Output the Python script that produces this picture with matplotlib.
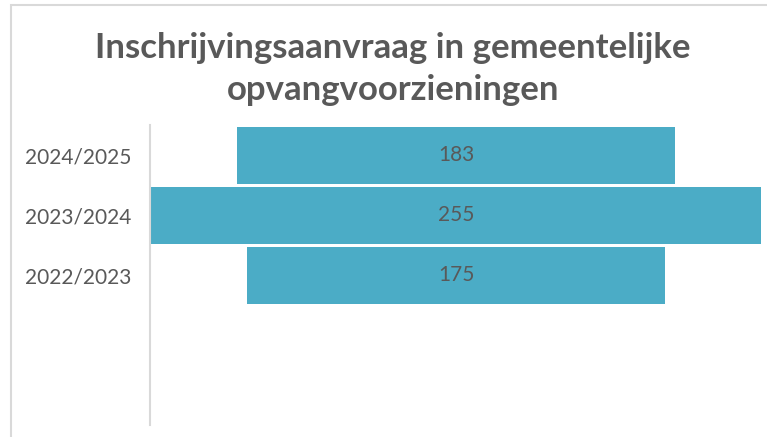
import matplotlib
matplotlib.use("Agg")
import matplotlib.pyplot as plt
from matplotlib.patches import Rectangle

plt.rcParams['font.family'] = ['Lato', 'DejaVu Sans']

# ==== Data ====
years = ["2024/2025", "2023/2024", "2022/2023"]
requests = [183, 255, 175]

bar_color = "#4BACC6"
text_color = "#595959"
line_color = "#D9D9D9"

W, H = 767, 437
fig = plt.figure(figsize=(W / 100, H / 100), dpi=100)

# outer chart frame (left and top edges visible)
fig.patches.append(Rectangle((11 / W, -0.1), 2.0, 1 - 5 / H + 0.1, transform=fig.transFigure,
                             fill=False, edgecolor=line_color, linewidth=1.5))

# ==== Title ====
fig.text(393 / W, 1 - 48 / H, "Inschrijvingsaanvraag in gemeentelijke", ha='center', va='center',
         fontsize=25, fontweight='bold', color=text_color)
fig.text(393 / W, 1 - 90 / H, "opvangvoorzieningen", ha='center', va='center',
         fontsize=25, fontweight='bold', color=text_color)

# ==== Funnel bars ====
ax = fig.add_axes([150 / W, 1 - 425 / H, 617 / W, 300 / H])
pos = list(range(len(years)))
lefts = [-v / 2 for v in requests]
ax.barh(pos, requests, left=lefts, height=0.95, color=bar_color)
for p, v in zip(pos, requests):
    ax.text(0, p, str(v), ha='center', va='center', fontsize=15, color=text_color)

ax.set_xlim(-128, 130)
ax.set_ylim(4.5, -0.5)
ax.set_yticks(pos)
ax.set_yticklabels(years, fontsize=15, color=text_color)
ax.tick_params(axis='y', length=0, pad=13.5)
ax.set_xticks([])
for s in ['top', 'right', 'bottom']:
    ax.spines[s].set_visible(False)
ax.spines['left'].set_color(line_color)
ax.spines['left'].set_linewidth(1.5)
ax.set_facecolor('none')

fig.savefig("out.png", dpi=100)
